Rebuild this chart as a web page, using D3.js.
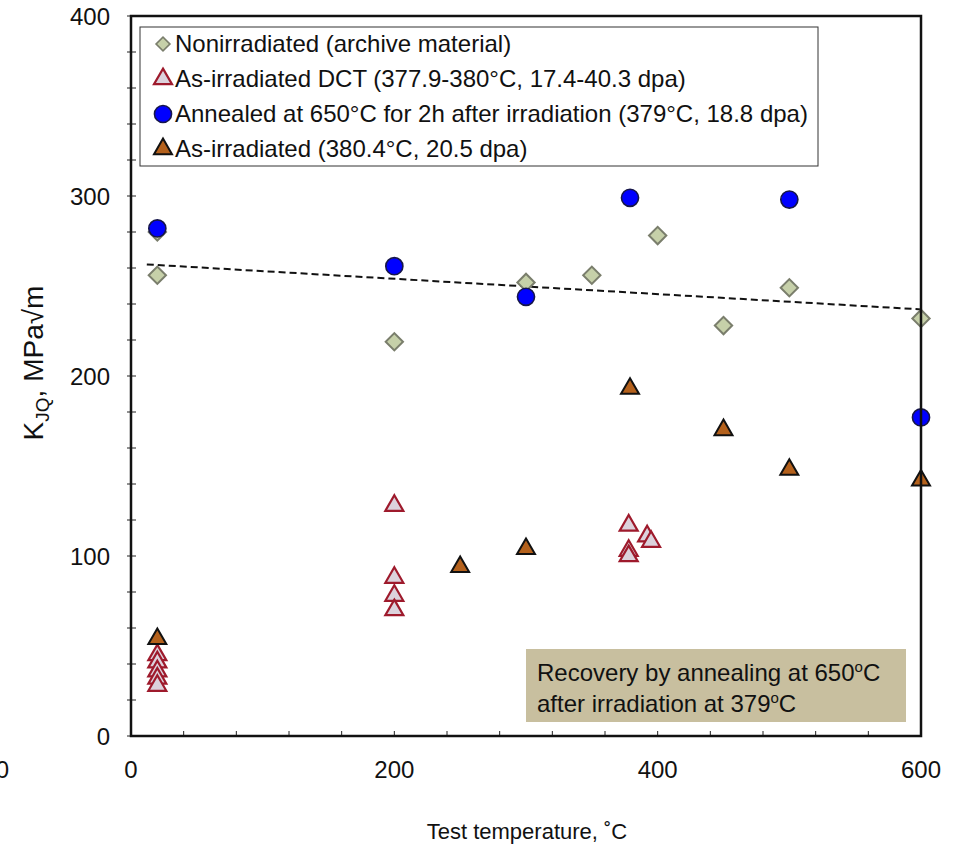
<!DOCTYPE html>
<html>
<head>
<meta charset="utf-8">
<script src="https://cdn.jsdelivr.net/npm/d3@7"></script>
<style>
  body { margin: 0; background: #fff; }
  text { font-family: "Liberation Sans", Arial, sans-serif; fill: #111; }
</style>
</head>
<body>
<div id="chart"></div>
<script>
// data
var nonirrX = [20, 20, 200, 300, 350, 400, 450, 500, 600];
var nonirrY = [280, 256, 219, 252, 256, 278, 228, 249, 232];

var dctX = [20, 20, 20, 20, 20, 200, 200, 200, 200, 378, 378, 378, 392, 395];
var dctY = [45, 41, 36, 32, 28, 128, 88, 78, 70, 117, 103, 100, 111, 108];

var annealX = [20, 200, 300, 379, 500, 600];
var annealY = [282, 261, 244, 299, 298, 177];

var irrX = [20, 250, 300, 379, 450, 500, 600];
var irrY = [54, 94, 104, 193, 170, 148, 142];

var trendX = [12, 600];
var trendY = [262, 237];

var xTicks = [0, 200, 400, 600];
var yTicks = [0, 100, 200, 300, 400];

var legendLabels = [
  "Nonirradiated (archive material)",
  "As-irradiated DCT (377.9-380\u00b0C, 17.4-40.3 dpa)",
  "Annealed at 650\u00b0C for 2h after irradiation (379\u00b0C, 18.8 dpa)",
  "As-irradiated (380.4\u00b0C, 20.5 dpa)"
];

function drawChart() {
  // Set up dimensions
  var W = 955, H = 848;
  var pLeft = 131, pRight = 921, pTop = 16, pBottom = 736;

  var svg = d3.select("#chart").append("svg")
      .attr("width", W)
      .attr("height", H);

  var x = d3.scaleLinear().domain([0, 600]).range([pLeft, pRight]);
  var y = d3.scaleLinear().domain([0, 400]).range([pBottom, pTop]);

  // series styles
  var styles = [
    { type: "diamond", fill: "#c6d0a9", stroke: "#7a7e6c", sw: 2 },
    { type: "triangle", fill: "#dcd2dc", stroke: "#9e1a2c", sw: 2.2 },
    { type: "circle", fill: "#0000ff", stroke: "#16164a", sw: 1.6 },
    { type: "triangle", fill: "#b4611c", stroke: "#111", sw: 2 }
  ];

  function symbolPath(type) {
    if (type === "diamond") return d3.symbol().type(d3.symbolSquare).size(150)();
    if (type === "triangle") return d3.symbol().type(d3.symbolTriangle).size(140)();
    return d3.symbol().type(d3.symbolCircle).size(230)();
  }

  // minor ticks
  var xMinor = d3.range(0, 601, 40);
  var yMinor = d3.range(0, 401, 20);

  svg.append("g").selectAll("line")
    .data(xMinor).enter().append("line")
    .attr("x1", d => x(d)).attr("x2", d => x(d))
    .attr("y1", pBottom).attr("y2", pBottom - 5)
    .attr("stroke", "#222").attr("stroke-width", 1);

  svg.append("g").selectAll("line")
    .data(yMinor).enter().append("line")
    .attr("x1", pLeft - 4).attr("x2", pLeft + 5)
    .attr("y1", d => y(d)).attr("y2", d => y(d))
    .attr("stroke", "#222").attr("stroke-width", 1);

  // tick labels
  svg.append("g").selectAll("text")
    .data(yTicks).enter().append("text")
    .attr("x", 110)
    .attr("y", d => y(d) + 9)
    .attr("text-anchor", "end")
    .style("font-size", "24px")
    .text(d => d);

  svg.append("g").selectAll("text")
    .data(xTicks).enter().append("text")
    .attr("x", d => x(d))
    .attr("y", 778)
    .attr("text-anchor", "middle")
    .style("font-size", "24px")
    .text(d => d);

  // stray cut-off label at far left
  svg.append("text")
    .attr("x", 9).attr("y", 778)
    .attr("text-anchor", "end")
    .style("font-size", "24px")
    .text("0");

  // axis titles
  svg.append("text")
    .attr("x", 527).attr("y", 839)
    .attr("text-anchor", "middle")
    .style("font-size", "22px")
    .text("Test temperature, \u02daC");

  var yl = svg.append("text")
    .attr("transform", "translate(43,363) rotate(-90)")
    .attr("text-anchor", "middle")
    .style("font-size", "28px");
  yl.append("tspan").text("K");
  yl.append("tspan").attr("dy", 6).style("font-size", "19px").text("JQ");
  yl.append("tspan").attr("dy", -6).text(", MPa\u221am");

  // annotation box
  svg.append("rect")
    .attr("x", 526).attr("y", 649)
    .attr("width", 380).attr("height", 73)
    .attr("fill", "#c8bf9f");

  var ann1 = svg.append("text").attr("x", 537).attr("y", 681).style("font-size", "24px");
  ann1.append("tspan").text("Recovery by annealing at 650");
  ann1.append("tspan").attr("dy", -9).style("font-size", "15px").text("o");
  ann1.append("tspan").attr("dy", 9).text("C");

  var ann2 = svg.append("text").attr("x", 537).attr("y", 712).style("font-size", "24px");
  ann2.append("tspan").text("after irradiation at 379");
  ann2.append("tspan").attr("dy", -9).style("font-size", "15px").text("o");
  ann2.append("tspan").attr("dy", 9).text("C");

  // trend line
  var trend = trendX.map((d, i) => ({ x: d, y: trendY[i] }));
  svg.append("path")
    .datum(trend)
    .attr("d", d3.line().x(d => x(d.x)).y(d => y(d.y)))
    .attr("fill", "none")
    .attr("stroke", "#111")
    .attr("stroke-width", 2)
    .attr("stroke-dasharray", "7,4");

  // data points
  var series = [
    nonirrX.map((d, i) => ({ x: d, y: nonirrY[i] })),
    dctX.map((d, i) => ({ x: d, y: dctY[i] })),
    annealX.map((d, i) => ({ x: d, y: annealY[i] })),
    irrX.map((d, i) => ({ x: d, y: irrY[i] }))
  ];

  series.forEach(function(pts, k) {
    var st = styles[k];
    svg.append("g").selectAll("path")
      .data(pts).enter().append("path")
      .attr("d", symbolPath(st.type))
      .attr("transform", function(d) {
        var t = "translate(" + x(d.x) + "," + y(d.y) + ")";
        return st.type === "diamond" ? t + " rotate(45)" : t;
      })
      .attr("fill", st.fill)
      .attr("stroke", st.stroke)
      .attr("stroke-width", st.sw);
  });

  // plot frame
  svg.append("rect")
    .attr("x", pLeft).attr("y", pTop)
    .attr("width", pRight - pLeft).attr("height", pBottom - pTop)
    .attr("fill", "none")
    .attr("stroke", "#111")
    .attr("stroke-width", 2.5);

  // legend
  var lg = svg.append("g");
  lg.append("rect")
    .attr("x", 140).attr("y", 27)
    .attr("width", 678).attr("height", 139)
    .attr("fill", "#fff")
    .attr("stroke", "#333")
    .attr("stroke-width", 1);

  var rows = lg.selectAll(".row")
    .data(legendLabels).enter().append("g")
    .attr("class", "row")
    .attr("transform", (d, i) => "translate(0," + (44 + i * 35) + ")");

  rows.append("path")
    .attr("d", (d, i) => symbolPath(styles[i].type))
    .attr("transform", (d, i) => "translate(163,0)" + (styles[i].type === "diamond" ? " rotate(45) scale(0.8)" : ""))
    .attr("fill", (d, i) => styles[i].fill)
    .attr("stroke", (d, i) => styles[i].stroke)
    .attr("stroke-width", (d, i) => styles[i].sw);

  rows.append("text")
    .attr("x", 175)
    .attr("y", 8)
    .style("font-size", "24px")
    .text(d => d);
}
drawChart();
</script>
</body>
</html>
